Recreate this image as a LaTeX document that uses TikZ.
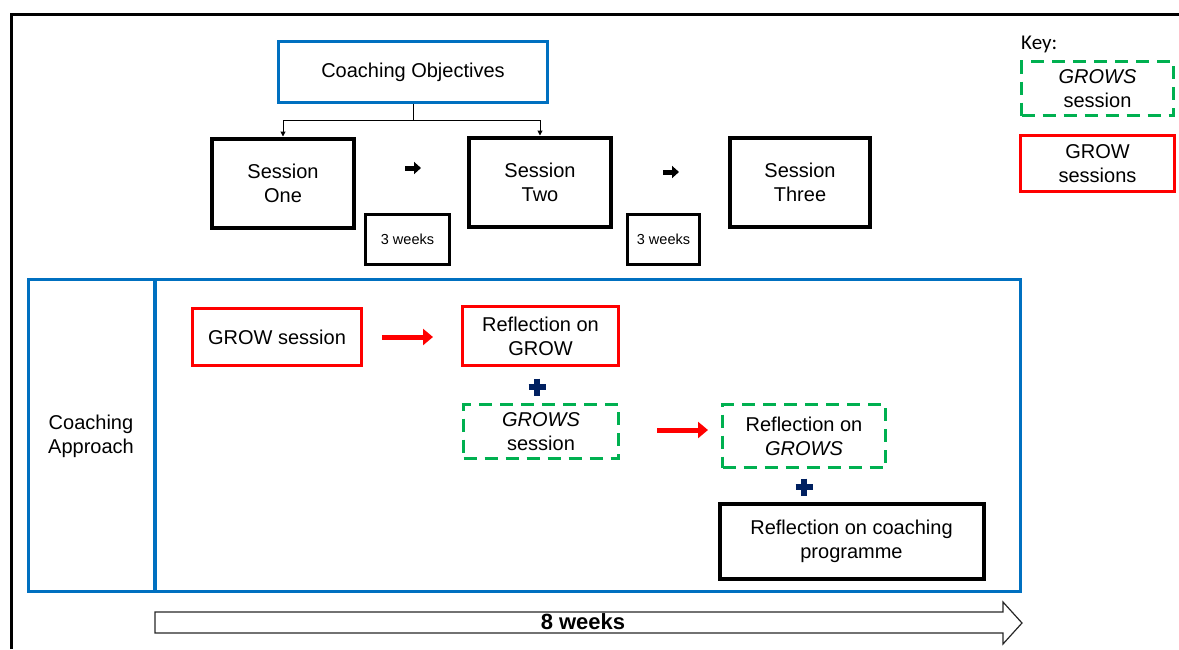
\documentclass[tikz,border=0pt]{standalone}
\usepackage{fontspec}
\setmainfont{Liberation Sans}
\newfontfamily\keyfont{Carlito}
\usetikzlibrary{arrows.meta}
\definecolor{myblue}{RGB}{0,112,192}
\definecolor{myred}{RGB}{255,0,0}
\definecolor{mygreen}{RGB}{0,176,80}
\definecolor{mynavy}{RGB}{0,32,96}
\begin{document}
\begin{tikzpicture}[x=1pt,y=-1pt,
  box/.style={draw, rectangle, align=center, inner sep=0pt, font=\fontsize{20}{24}\selectfont},
  blk/.style={box, line width=4pt, draw=black},
  blu/.style={box, line width=3pt, draw=myblue},
  rbox/.style={box, line width=3pt, draw=myred},
  gbox/.style={box, line width=3pt, draw=mygreen, dash pattern=on 13pt off 8pt},
  wk/.style={box, line width=3.5pt, draw=black, font=\fontsize{14.5}{17}\selectfont},
  redarrow/.style={draw=myred, line width=5pt, -{Triangle[length=10pt,width=16pt]}},
  thinarrow/.style={line width=1pt, -{Triangle[length=5pt,width=5pt]}},
  blockarrow/.pic={\draw[line width=5pt, -{Triangle[length=7pt,width=12pt]}] (-8,0) -- (8,0);},
  plussign/.pic={\draw[mynavy, line width=5.5pt] (-8.5,0) -- (8.5,0) (0,-8.5) -- (0,8.5);},
]
\useasboundingbox (0,0) rectangle (1179,649);
% outer frame (clipped)
\draw[line width=3pt] (11,649) -- (11,14) -- (1179,14);

% top part
\node[blu, minimum width=269pt, minimum height=61pt] (obj) at (413,72) {Coaching Objectives};
\node[blk, minimum width=142pt, minimum height=89pt] (s1) at (283,183) {Session\\One};
\node[blk, minimum width=142pt, minimum height=89pt] (s2) at (540,182) {Session\\Two};
\node[blk, minimum width=140pt, minimum height=89pt] (s3) at (800,182) {Session\\Three};
\node[wk, minimum width=84pt, minimum height=50pt] (w1) at (407.5,239.5) {3 weeks};
\node[wk, minimum width=72pt, minimum height=50pt] (w2) at (663.5,239.5) {3 weeks};
\pic at (413,168) {blockarrow};
\pic at (671,172) {blockarrow};

\draw[line width=1pt] (obj.south) -- ++(0,16) coordinate (br);
\draw[thinarrow] (br) -| (s1.north);
\draw[thinarrow] (br) -| (s2.north);

% key
\node[anchor=west, font=\keyfont\fontsize{21}{24}\selectfont, inner sep=0pt] (key) at (1021,44) {Key:};
\node[gbox, minimum width=152pt, minimum height=54pt] (kg) at (1097.5,88.5) {\textit{GROWS}\\session};
\node[rbox, minimum width=154pt, minimum height=56pt] (kr) at (1097.5,163.5) {GROW\\sessions};

% coaching approach
\node[draw=myblue, line width=3.5pt, rectangle, minimum width=992pt, minimum height=312pt, inner sep=0pt] (ca) at (524.5,435.5) {};
\draw[myblue, line width=3.5pt] (155,278) -- (155,593);
\node[align=center, font=\fontsize{20}{24}\selectfont] (cal) at (91,436) {Coaching\\Approach};

\node[rbox, minimum width=169pt, minimum height=57pt] (g1) at (277,337) {GROW session};
\node[rbox, minimum width=156pt, minimum height=59pt] (r1) at (540.5,336) {Reflection on\\GROW};
\node[gbox, minimum width=155pt, minimum height=54pt] (g2) at (541,431.5) {\textit{GROWS}\\session};
\node[gbox, minimum width=163pt, minimum height=63pt] (r2) at (804,436) {Reflection on\\\textit{GROWS}};
\node[blk, minimum width=264pt, minimum height=75pt] (cp) at (851.5,541) {Reflection on coaching\\programme};

\draw[redarrow, shorten <=19pt, shorten >=28pt] (g1.east) -- (g1.east -| r1.west);
\draw[redarrow, shorten <=37pt, shorten >=13pt] ([yshift=1.5pt]g2.east) -- ([yshift=1.5pt]g2.east -| r2.west);
\pic at (537,387) {plussign};
\pic at (804,487) {plussign};

% 8 weeks arrow
\draw[line width=1.2pt, draw=black!85] (155,612) -- (1003,612) -- (1003,602) -- (1022,623) -- (1003,644) -- (1003,633) -- (155,633) -- cycle;
\node[font=\bfseries\fontsize{22}{24}\selectfont] (wk8) at (583,622) {8 weeks};
\end{tikzpicture}
\end{document}
